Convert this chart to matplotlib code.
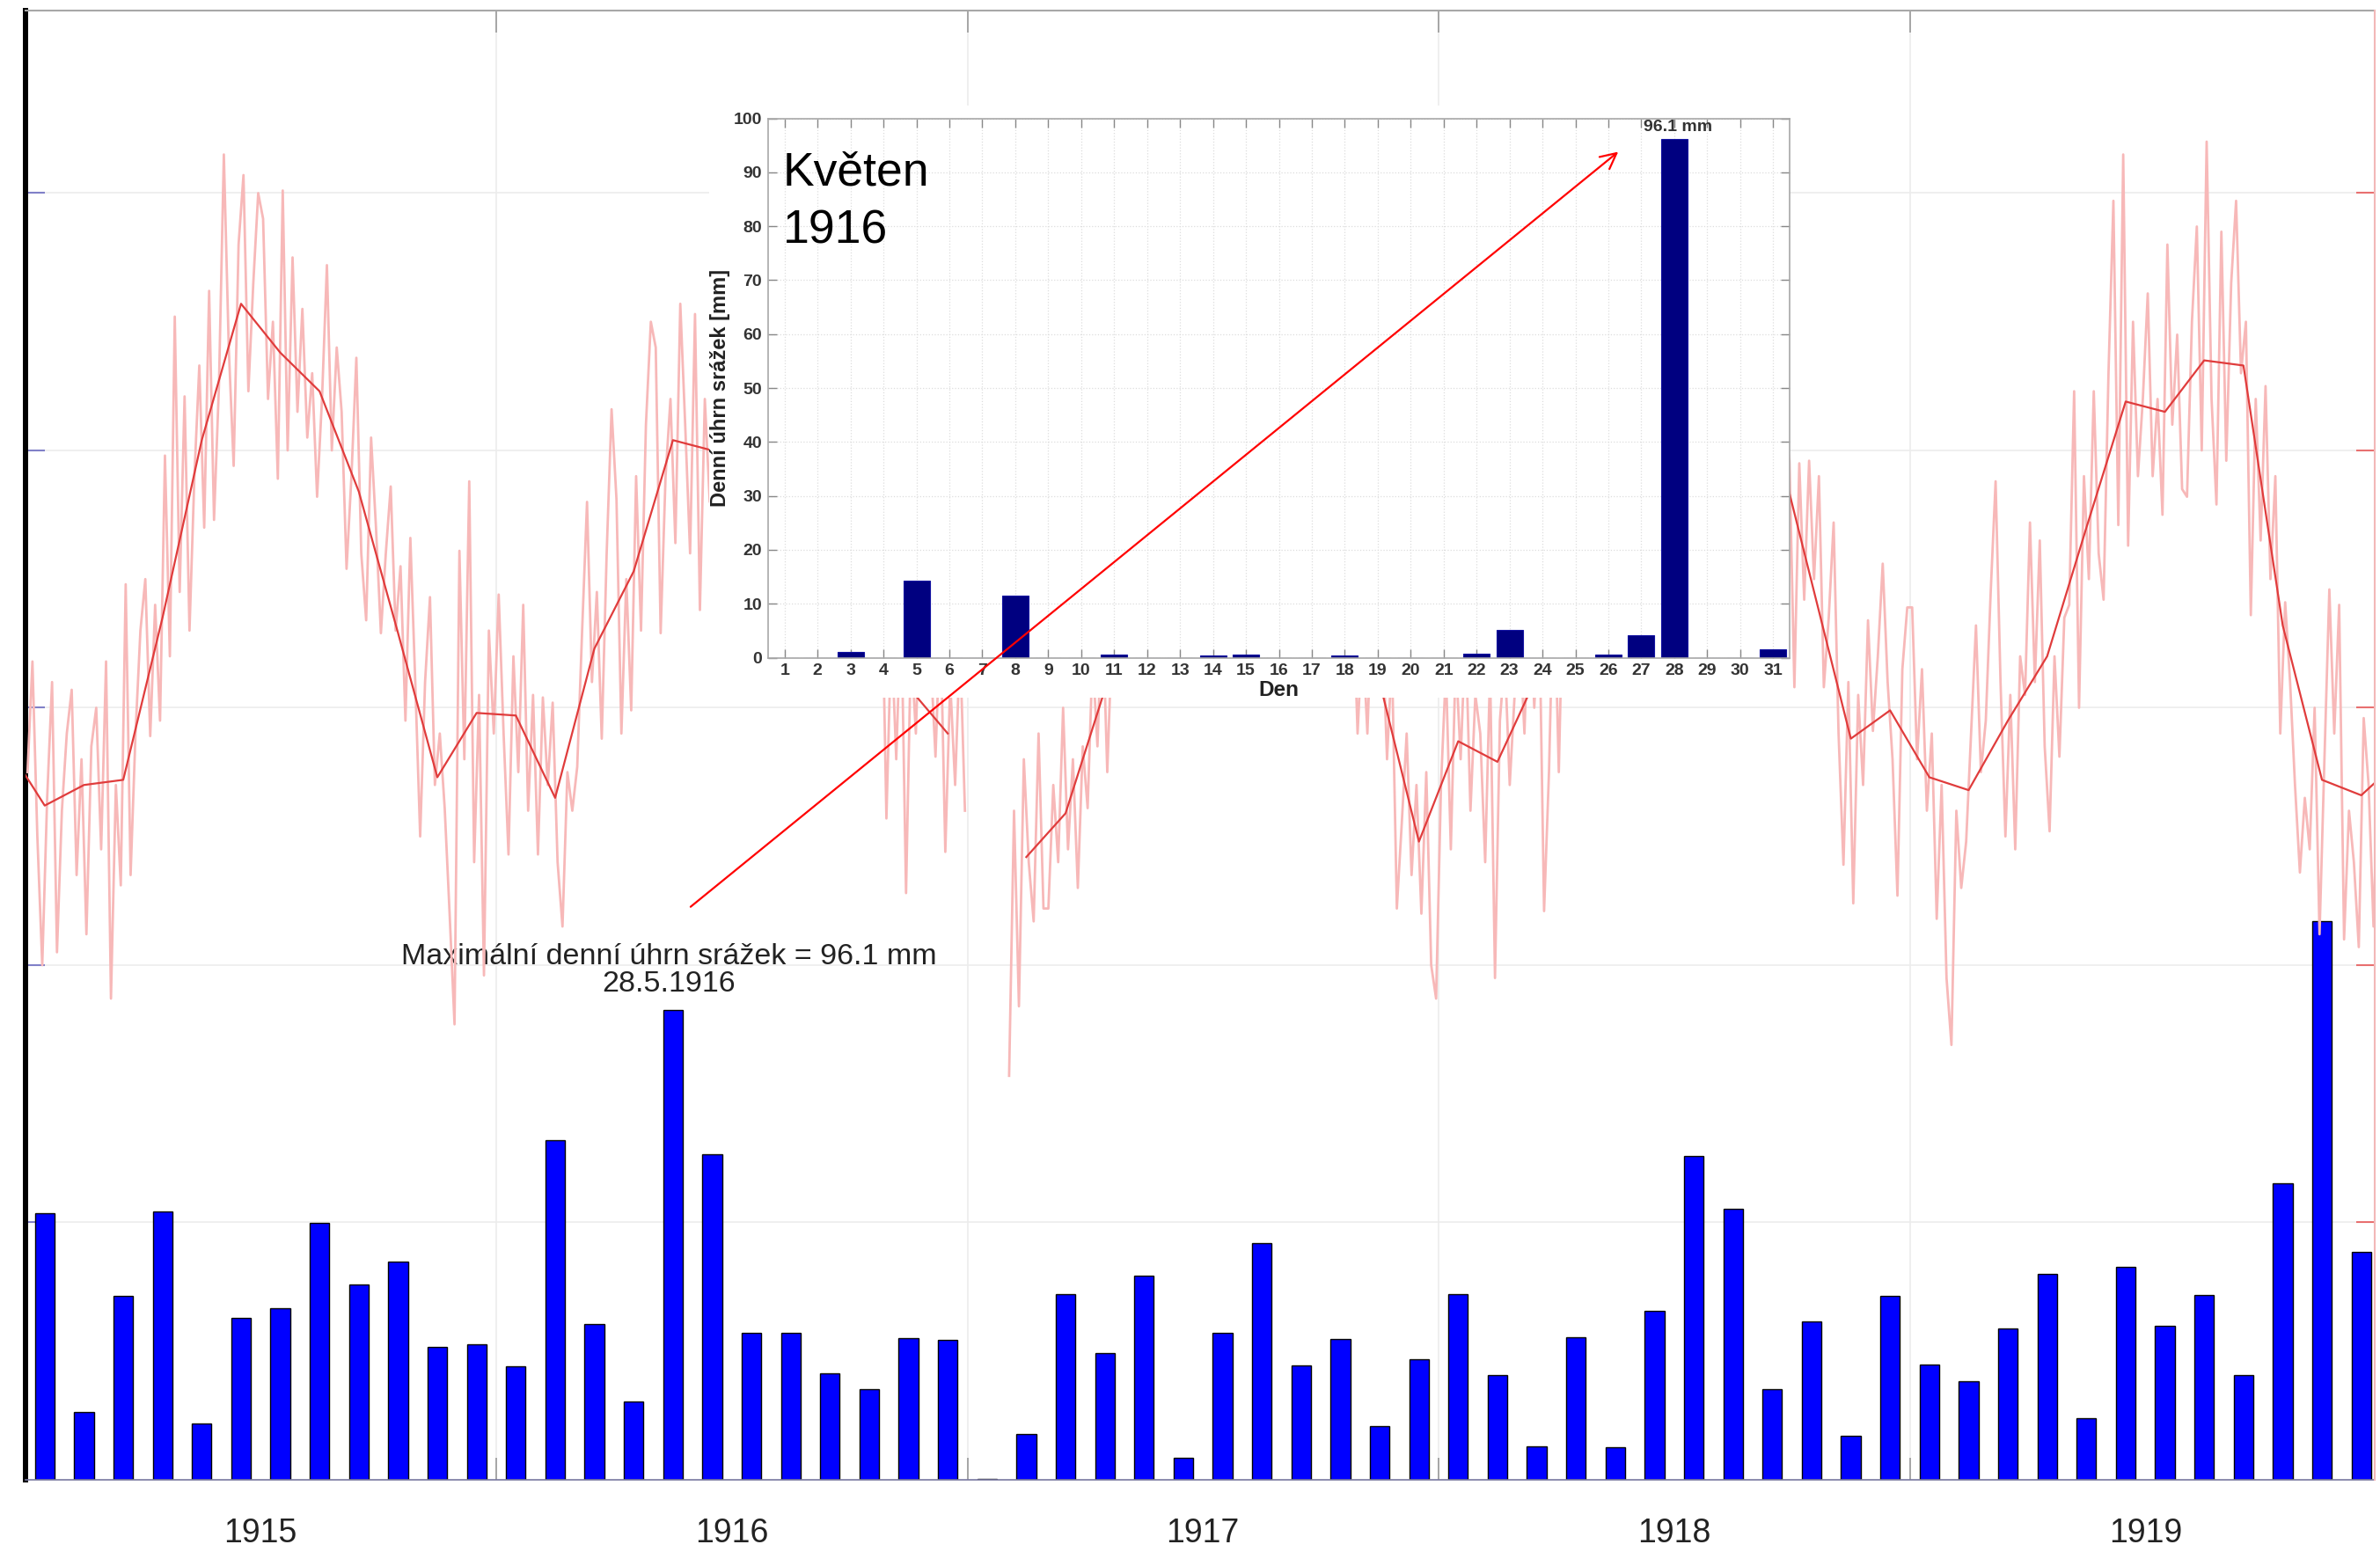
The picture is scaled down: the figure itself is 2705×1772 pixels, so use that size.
import numpy as np
import matplotlib
matplotlib.use("Agg")
import matplotlib.pyplot as plt

plt.rcParams['font.family'] = ['Liberation Sans', 'DejaVu Sans']

# monthly precipitation totals [mm], Jan 1915 .. Dec 1919
precip = [77.6, 19.8, 53.6, 78.3, 16.5, 47.1, 49.9, 74.9, 56.8, 63.7, 38.6, 39.4,
          33.2, 99.0, 45.5, 22.7, 137.0, 94.8, 42.9, 42.9, 31.1, 26.5, 41.2, 40.8,
          0.3, 13.3, 54.2, 36.8, 59.6, 6.4, 42.9, 68.9, 33.4, 41.1, 15.7, 35.1,
          54.2, 30.4, 9.8, 41.5, 9.4, 49.2, 94.3, 79.0, 26.5, 46.1, 12.8, 53.6,
          33.7, 28.7, 44.1, 59.9, 18.0, 62.1, 44.8, 53.9, 30.5, 86.4, 162.7, 66.3]

# monthly mean temperature [degC], Dec 1914 .. Jan 1920 (Jan 1917 missing)
temp_month = [-1.4,
              -3.8, -3.0, -2.8, 3.5, 10.4, 15.7, 13.8, 12.3, 8.4, 2.9, -2.7, -0.2,
              -0.3, -3.5, 2.3, 5.3, 10.4, 10.0, 13.0, 12.5, 9.0, 6.0, 0.8, -1.0,
              np.nan, -5.8, -4.1, 0.7, 11.0, 14.5, 14.0, 13.0, 11.0, 4.5, 1.0, -5.2,
              -1.3, -2.1, 1.2, 6.5, 13.0, 13.5, 15.0, 14.0, 11.0, 4.9, -1.2, -0.1,
              -2.7, -3.2, -0.5, 2.0, 7.0, 11.9, 11.5, 13.5, 13.3, 3.2, -2.8, -3.4,
              -2.0]

# daily temperature (thinned, 8 readings per month) [degC]
temp_1915 = [[-2.5, 1.8, -5.0, -10.0, -3.5, 1.0, -9.5, -4.0],
             [-1.0, 0.7, -6.5, -2.0, -8.8, -1.5, 0.0, -5.5],
             [1.8, -11.3, -3.0, -6.9, 4.8, -6.5, -1.0, 3.0],
             [5.0, -1.1, 4.0, -0.5, 9.8, 2.0, 15.2, 4.5],
             [12.1, 3.0, 9.0, 13.3, 7.0, 16.2, 7.3, 12.5],
             [21.5, 14.0, 9.4, 18.0, 20.7, 12.3, 16.5, 20.0],
             [19.0, 12.0, 15.0, 8.9, 20.1, 10.0, 17.5, 11.5],
             [15.5, 10.5, 13.0, 8.2, 12.0, 17.2, 10.0, 14.0],
             [11.5, 5.4, 9.0, 13.6, 6.0, 3.4, 10.5, 7.0],
             [2.9, 6.0, 8.6, 3.0, 5.5, -0.5, 6.6, 1.0],
             [-5.0, 1.0, 4.3, -3.0, -1.0, -3.9, -8.0, -12.3],
             [6.1, -2.0, 8.8, -6.0, 0.5, -10.4, 3.0, -1.0]]
temp_1916 = [[4.4, -1.0, -5.7, 2.0, -2.5, 4.0, -4.0, 0.5],
             [-5.7, 0.4, -3.0, 0.2, -6.0, -8.5, -2.5, -4.0],
             [-2.3, 3.0, 8.0, 1.0, 4.5, -1.2, 6.0, 11.6],
             [8.1, -1.0, 5.0, -0.1, 9.0, 3.0, 11.0, 15.0],
             [14.0, 2.9, 9.0, 12.0, 6.4, 15.7, 11.0, 6.0],
             [15.3, 3.8, 12.0, 8.0, 14.0, 6.5, 13.0, 9.0],
             [16.0, 9.0, 14.5, 11.0, 18.0, 10.5, 15.0, 12.0],
             [15.0, 9.5, 13.0, 16.5, 10.0, 14.0, 8.5, 12.5],
             [12.0, 6.0, 10.5, 4.5, 11.0, 7.0, 13.0, 8.0],
             [9.0, 3.0, 8.0, 5.5, 10.0, 2.0, 6.0, -4.3],
             [3.0, -2.0, 4.0, -7.2, 2.5, -1.0, 5.0, 1.0],
             [2.0, -1.9, 3.5, -5.6, 1.0, -3.0, 2.5, -4.0]]
temp_1917 = [[np.nan] * 8,
             [-14.3, -4.0, -11.6, -2.0, -6.0, -8.3, -1.0, -7.8],
             [-7.8, -3.0, -6.0, 0.0, -5.5, -2.0, -7.0, -1.5],
             [-3.9, 2.0, -1.5, 4.0, -2.5, 3.0, 1.0, 5.0],
             [8.0, 13.0, 9.5, 15.0, 10.0, 14.0, 8.5, 12.0],
             [17.0, 12.0, 18.5, 13.0, 16.0, 11.0, 15.5, 17.0],
             [16.5, 11.5, 17.0, 12.0, 15.5, 10.5, 16.0, 13.0],
             [15.5, 10.5, 14.5, 12.0, 16.0, 9.5, 14.0, 11.5],
             [13.5, 8.5, 12.5, 10.0, 14.0, 8.0, 11.0, 9.5],
             [8.0, 3.0, 7.0, 2.0, 6.5, 1.0, 5.0, -1.0],
             [3.0, -1.0, 4.5, 0.5, 3.5, -2.0, 2.0, -7.8],
             [-4.5, -1.0, -6.5, -3.0, -8.0, -2.5, -10.0, -11.3]]
temp_1918 = [[-3.0, 1.5, -5.5, 2.0, -2.0, 3.0, -4.0, 0.5],
             [-1.0, -6.0, 1.5, -10.5, -0.5, 2.0, -3.0, 0.5],
             [3.0, -1.0, 5.0, 0.0, 4.0, -7.9, -2.5, 5.5],
             [-2.5, 6.0, 9.0, 3.0, 10.0, 5.0, 11.0, 7.0],
             [10.0, 15.5, 11.0, 17.0, 12.5, 16.0, 10.5, 14.0],
             [16.0, 11.0, 15.5, 10.5, 17.0, 12.0, 16.5, 11.5],
             [18.0, 13.0, 17.5, 12.5, 18.5, 13.5, 16.5, 12.0],
             [16.5, 12.0, 17.0, 11.5, 15.5, 12.5, 16.0, 11.0],
             [13.0, 9.0, 14.0, 8.5, 12.0, 10.0, 11.0, 9.6],
             [0.8, 9.5, 4.2, 9.6, 5.0, 9.0, 0.8, 3.5],
             [7.2, -1.0, -6.1, 1.0, -7.6, 0.5, -3.0, 3.4],
             [-0.9, 2.0, 5.6, 1.0, -2.0, -7.3, 1.5, 3.9]]
temp_1919 = [[3.9, -2.0, 1.5, -4.0, -1.0, -8.2, -3.0, -10.5],
             [-13.1, -4.0, -7.0, -5.2, -1.0, 3.2, -2.5, -0.5],
             [4.5, 8.8, 1.0, -5.0, 0.5, -5.5, 2.0, 0.5],
             [7.2, 1.0, 6.5, -1.5, -4.8, 2.0, -1.9, 3.5],
             [4.0, 12.3, 0.0, 9.0, 5.0, 12.3, 6.0, 4.2],
             [13.0, 19.7, 7.1, 21.5, 6.3, 15.0, 9.0, 12.0],
             [16.1, 9.0, 12.0, 7.5, 18.0, 11.0, 14.5, 8.5],
             [8.2, 15.0, 18.7, 10.0, 22.0, 12.0, 7.9, 18.5],
             [9.6, 16.5, 19.7, 13.0, 15.0, 3.6, 12.0, 6.5],
             [12.5, 5.0, 9.0, -1.0, 4.1, 1.0, -3.0, -6.4],
             [-3.5, -5.5, 0.0, -8.8, -2.0, 4.6, -1.0, 4.0],
             [-9.0, -4.0, -6.0, -9.3, -0.4, -3.0, -8.5, -1.5]]

years = ['1915', '1916', '1917', '1918', '1919']

# daily precipitation in May 1916 [mm]
may_days = list(range(1, 32))
may_precip = [0, 0, 1.0, 0, 14.3, 0, 0, 11.5, 0, 0, 0.6, 0, 0, 0.4, 0.6, 0,
              0, 0.4, 0, 0, 0, 0.7, 5.2, 0, 0, 0.6, 4.2, 96.1, 0, 0, 1.5]

W, H = 2705, 1772
fig = plt.figure(figsize=(W / 100, H / 100), dpi=100)

# main axes (precipitation bars)
x0, x1, yb, yt = 28.5, 2699, 1682, 11.5
ax = fig.add_axes([x0 / W, 1 - yb / H, (x1 - x0) / W, (yb - yt) / H])
ax.set_xlim(0, (x1 - x0) / 44.625)
ax.set_ylim(0, 5.711 * 75)
months = np.arange(len(precip))
ax.bar(months + 0.5, precip, width=0.5, color='#0000ff', edgecolor='black',
       linewidth=1.0, zorder=2)
ax.set_axisbelow(True)
ax.set_xticks(np.arange(0, 60, 12))
ax.set_xticks(np.arange(6, 60, 12), minor=True)
ax.set_xticklabels([])
ax.set_xticklabels(years, minor=True, fontsize=27, color='#222222')
ax.tick_params(axis='x', which='major', direction='in', length=18, width=1.2,
               color='#999999', top=True)
ax.tick_params(axis='x', which='minor', length=0, pad=31)
ax.set_yticks(np.arange(75, 400, 75))
ax.set_yticklabels([])
ax.tick_params(axis='y', direction='in', length=16, width=1.5, color='#8080c8')
ax.grid(True, which='major', color='#ececec', linewidth=1.2)
ax.spines['left'].set_color('black')
ax.spines['left'].set_linewidth(4.3)
ax.spines['top'].set_color('#a8a8a8')
ax.spines['top'].set_linewidth(1.5)
ax.spines['bottom'].set_color('#7878a0')
ax.spines['bottom'].set_linewidth(1.2)
ax.spines['right'].set_visible(False)

ax.text(16.4, 148.5, 'Maximální denní úhrn srážek = 96.1 mm\n28.5.1916',
        ha='center', va='center', fontsize=24.5, color='#222222', linespacing=1.02)

# temperature on twin axis
ax2 = ax.twinx()
ax2.set_ylim(-30, 27.11)
daily = np.array(temp_1915 + temp_1916 + temp_1917 + temp_1918 + temp_1919)
nper = daily.shape[1]
xd = (np.arange(daily.shape[0])[:, None] + (np.arange(nper) + 0.5) / nper).ravel()
ax2.plot(xd, daily.ravel(), color='#f7b8b8', linewidth=2.0)
xm = np.arange(-1, len(temp_month) - 1) + 0.5
ax2.plot(xm, temp_month, color='#e03c3c', linewidth=1.6)
ax2.set_yticks([-20, -10, 0, 10, 20])
ax2.set_yticklabels([])
ax2.tick_params(axis='y', direction='in', length=15, width=1.5, color='#e87070')
for s in ['left', 'top', 'bottom']:
    ax2.spines[s].set_visible(False)
ax2.spines['right'].set_color('#f2b8b8')
ax2.spines['right'].set_linewidth(1.5)

# white backdrop for the inset
bg = fig.add_axes([806 / W, 1 - 793 / H, (2034 - 806) / W, (793 - 120) / H])
bg.set_xticks([])
bg.set_yticks([])
for s in bg.spines.values():
    s.set_visible(False)
bg.set_facecolor('white')
bg.set_zorder(3)

# inset: daily precipitation in May 1916
ai = fig.add_axes([873 / W, 1 - 747.5 / H, (2034 - 873) / W, (747.5 - 134.5) / H])
ai.set_zorder(4)
ai.bar(may_days, may_precip, width=0.8, color='#000080', edgecolor='#1010a0',
       linewidth=0.8, zorder=2)
ai.set_xlim(0.5, 31.5)
ai.set_ylim(0, 100)
ai.set_xticks(may_days)
ai.set_yticks(np.arange(0, 101, 10))
ai.set_axisbelow(True)
ai.grid(True, color='#dddddd', linewidth=0.9, linestyle=':')
ai.tick_params(direction='in', length=7, width=1, color='#888888', top=True,
               right=True, labelsize=14, labelcolor='#333333', pad=5)
for lab in ai.get_xticklabels() + ai.get_yticklabels():
    lab.set_fontweight('bold')
for s in ai.spines.values():
    s.set_color('#a8a8a8')
    s.set_linewidth(1.2)
ai.set_xlabel('Den', fontsize=17.5, fontweight='bold', color='#222222', labelpad=1)
ai.set_ylabel('Denní úhrn srážek [mm]', fontsize=17, fontweight='bold',
              color='#222222', labelpad=3)
ai.text(0.95, 94.0, 'Květen\n1916', ha='left', va='top', fontsize=38.5,
        color='black', linespacing=1.42)
ai.text(28.1, 97.0, '96.1 mm', ha='center', va='bottom', fontsize=14,
        fontweight='bold', color='#333333')
ai.annotate('', xy=(26.3, 93.8), xycoords='data',
            xytext=(16.95, 167), textcoords=ax.transData,
            arrowprops=dict(arrowstyle='->', color='red', linewidth=1.6,
                            mutation_scale=32, shrinkA=0, shrinkB=0),
            annotation_clip=False)

fig.savefig('out.png', dpi=100, facecolor='white')
